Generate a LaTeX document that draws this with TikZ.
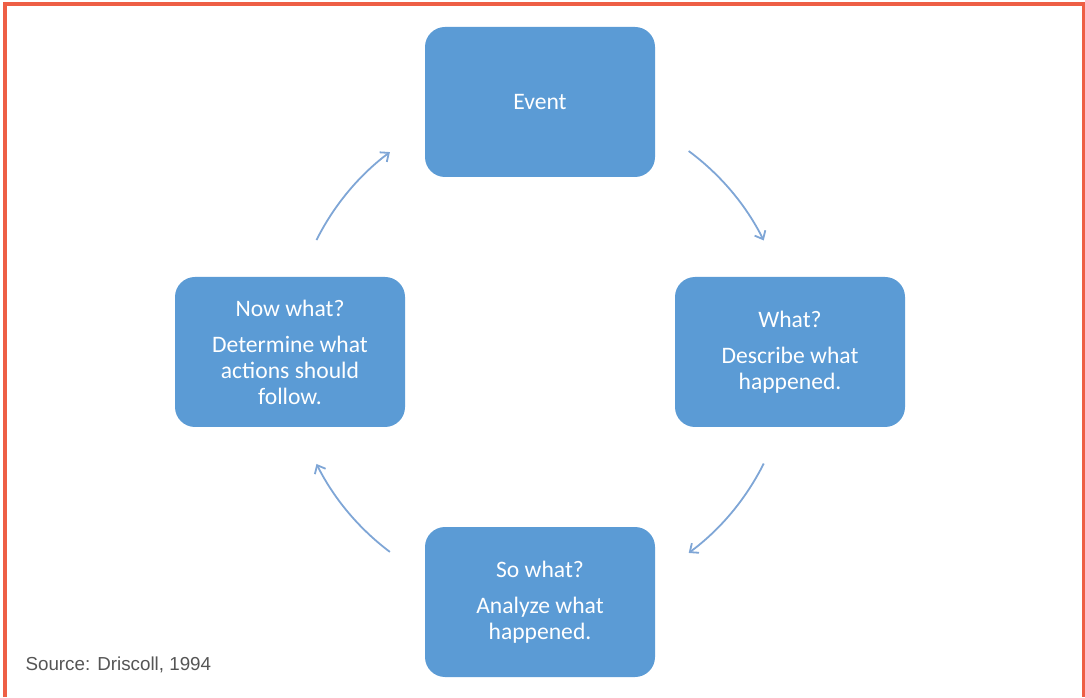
\documentclass[tikz,border=0pt]{standalone}
\usepackage{fontspec}
\setmainfont{Carlito}
\newfontfamily\srcfont{Liberation Sans}
\usetikzlibrary{arrows.meta}

\definecolor{boxblue}{HTML}{5B9BD5}
\definecolor{arrowblue}{HTML}{7FA6D6}
\definecolor{frameorange}{HTML}{EE5F45}
\definecolor{srcgrey}{HTML}{555555}

\begin{document}
\begin{tikzpicture}[
                x=1pt, y=1pt,
                stage/.style={fill=boxblue, rounded corners=20pt, minimum width=230pt,
                    minimum height=150pt, text=white, align=center,
                    font=\fontsize{23.6}{26}\selectfont},
                cyc/.style={draw=arrowblue, line width=1.8pt,
                    -{Straight Barb[length=7pt, width=12pt]}}
            ]

                \useasboundingbox (0, 0) rectangle (1085, 697);
                \draw[frameorange, line width=4pt] (5, 0) -- (5, 692.5) -- (1083.5, 692.5) -- (1083.5, 0);

                \coordinate (hub) at (540, 345);

                \node[stage] (event) at (540, 595) {Event};
                \node[stage] (what) at (790, 345) {What?\\[10pt]Describe what\\happened.};
                \node[stage] (sowhat) at (540, 95) {So what?\\[10pt]Analyze what\\happened.};
                \node[stage] (nowwhat) at (290, 345) {Now what?\\[10pt]Determine what\\actions should\\follow.};

                % arcs round the hub, one between each pair of boxes
                \foreach \from/\to in {53.5/26.5, -26.5/-53.5, -126.9/-153.4, 153.4/126.9} {
                    \draw[cyc] (hub) ++(\from:250pt) arc[start angle=\from, end angle=\to, radius=250pt];
                }

                \node[anchor=west, text=srcgrey, font=\srcfont\fontsize{18.8}{20}\selectfont] (source) at (22, 32) {Source: Driscoll, 1994};
            \end{tikzpicture}
\end{document}
